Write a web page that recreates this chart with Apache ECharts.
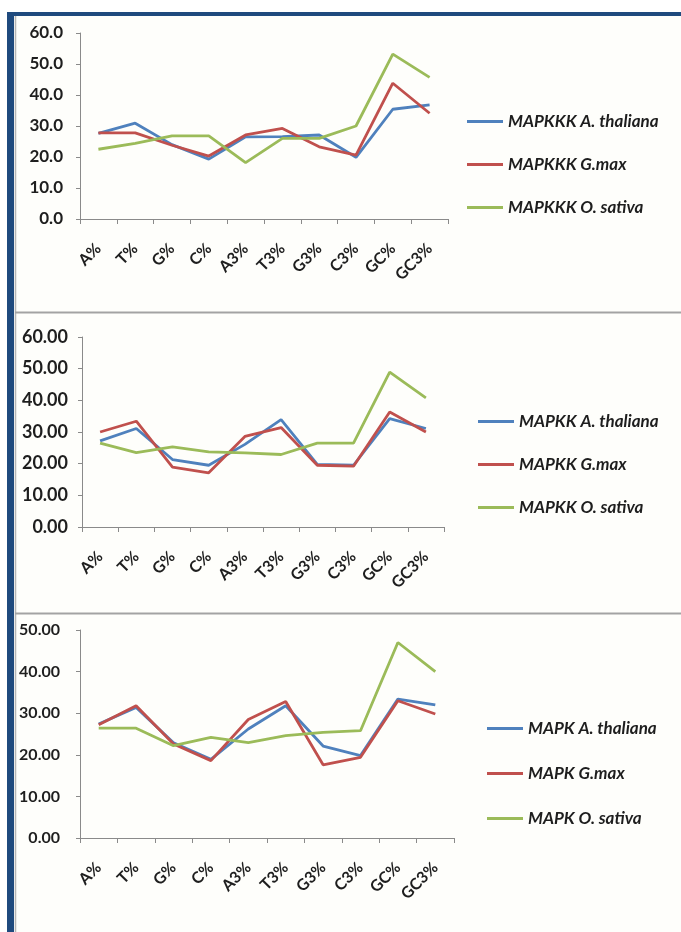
<!DOCTYPE html>
<html>
<head>
<meta charset="utf-8">
<script src="https://cdn.jsdelivr.net/npm/echarts@6/dist/echarts.min.js"></script>
<style>
html,body{margin:0;padding:0;background:#ffffff;}
#c{width:681px;height:932px;}
</style>
</head>
<body>
<div id="c"></div>
<script>
// ---- Data ----
const categories = ['A%', 'T%', 'G%', 'C%', 'A3%', 'T3%', 'G3%', 'C3%', 'GC%', 'GC3%'];

// Panel 1: MAPKKK
const mapkkkAthaliana = [27.6, 30.9, 24.0, 19.3, 26.5, 26.6, 27.1, 19.9, 35.4, 36.8];
const mapkkkGmax      = [27.8, 27.8, 23.8, 20.3, 27.1, 29.2, 23.3, 20.6, 43.8, 34.1];
const mapkkkOsativa   = [22.5, 24.4, 26.8, 26.8, 18.2, 26.0, 26.0, 30.0, 53.2, 45.7];

// Panel 2: MAPKK
const mapkkAthaliana = [27.2, 31.1, 21.3, 19.5, 26.1, 33.9, 19.8, 19.5, 34.2, 31.1];
const mapkkGmax      = [30.0, 33.4, 18.9, 17.1, 28.6, 31.4, 19.5, 19.2, 36.3, 30.0];
const mapkkOsativa   = [26.5, 23.5, 25.3, 23.7, 23.4, 22.9, 26.5, 26.5, 48.9, 40.8];

// Panel 3: MAPK
const mapkAthaliana = [27.4, 31.4, 22.9, 18.9, 26.2, 31.8, 22.1, 19.8, 33.4, 32.0];
const mapkGmax      = [27.2, 31.8, 22.6, 18.6, 28.5, 32.8, 17.6, 19.4, 33.0, 29.8];
const mapkOsativa   = [26.4, 26.4, 22.2, 24.2, 22.9, 24.6, 25.4, 25.8, 47.0, 40.0];

const names1 = ['MAPKKK A. thaliana', 'MAPKKK G.max', 'MAPKKK O. sativa'];
const names2 = ['MAPKK A. thaliana', 'MAPKK G.max', 'MAPKK O. sativa'];
const names3 = ['MAPK A. thaliana', 'MAPK G.max', 'MAPK O. sativa'];

const yMax = [60, 60, 50];
const yDecimals = [1, 2, 2];

// ---- Styling ----
const colors = ['#4F81BD', '#C0504D', '#9BBB59'];
const FONT = 'Lato, "Open Sans", sans-serif';
const TXT = '#1e1e1e';
const AXIS = '#8a8a8a';

const grids = [
  {left: 80, width: 368, top: 33, height: 186},
  {left: 82, width: 362, top: 337, height: 190},
  {left: 80, width: 374, top: 630, height: 208}
];
const yFont = [17, 18, 16];
const yMargin = [17, 14, 20];

const xAxes = grids.map((g, i) => ({
  type: 'category', gridIndex: i, data: categories, boundaryGap: true,
  axisLine: {lineStyle: {color: AXIS, width: 1}},
  axisTick: {show: true, alignWithLabel: false, length: 5, lineStyle: {color: AXIS}},
  axisLabel: {rotate: 45, margin: 27, color: TXT, fontFamily: FONT, fontWeight: 'bold', fontSize: 16, interval: 0}
}));
const yAxes = grids.map((g, i) => ({
  type: 'value', gridIndex: i, min: 0, max: yMax[i], interval: 10,
  axisLine: {show: true, lineStyle: {color: AXIS, width: 1}},
  axisTick: {show: true, length: 4, lineStyle: {color: AXIS}},
  splitLine: {show: false},
  axisLabel: {margin: yMargin[i], color: TXT, fontFamily: FONT, fontWeight: 'bold', fontSize: yFont[i],
    formatter: v => v.toFixed(yDecimals[i])}
}));

const panels = [
  {names: names1, data: [mapkkkAthaliana, mapkkkGmax, mapkkkOsativa]},
  {names: names2, data: [mapkkAthaliana, mapkkGmax, mapkkOsativa]},
  {names: names3, data: [mapkAthaliana, mapkGmax, mapkOsativa]}
];

const series = [];
panels.forEach((p, i) => {
  p.names.forEach((n, k) => {
    series.push({
      type: 'line', name: n, xAxisIndex: i, yAxisIndex: i, data: p.data[k],
      symbol: 'none', smooth: false, color: colors[k],
      lineStyle: {width: 2.8, color: colors[k]}, z: 2 + k
    });
  });
});

const legendPos = [
  {left: 467, top: 112, itemGap: 24},
  {left: 478, top: 412, itemGap: 24},
  {left: 487, top: 719, itemGap: 26}
];
const legends = panels.map((p, i) => ({
  data: p.names, orient: 'vertical', left: legendPos[i].left, top: legendPos[i].top,
  itemGap: legendPos[i].itemGap, icon: 'rect', itemWidth: 36, itemHeight: 3,
  padding: 0, selectedMode: false,
  textStyle: {fontFamily: FONT, fontStyle: 'italic', fontWeight: 'bold', fontSize: 17, color: TXT, lineHeight: 19}
}));

const chart = echarts.init(document.getElementById('c'), null, {renderer: 'canvas'});
chart.setOption({
  backgroundColor: '#fefefb',
  animation: false,
  grid: grids,
  xAxis: xAxes,
  yAxis: yAxes,
  legend: legends,
  series: series,
  graphic: [
    {type: 'rect', shape: {x: 0, y: 0, width: 681, height: 12}, style: {fill: '#ffffff'}, silent: true},
    {type: 'rect', shape: {x: 0, y: 12, width: 7, height: 920}, style: {fill: '#ffffff'}, silent: true},
    {type: 'rect', shape: {x: 7, y: 12, width: 674, height: 4}, style: {fill: '#1F4A7E'}, silent: true},
    {type: 'rect', shape: {x: 7, y: 12, width: 7, height: 920}, style: {fill: '#1F4A7E'}, silent: true},
    {type: 'line', shape: {x1: 15.5, y1: 16, x2: 15.5, y2: 932}, style: {stroke: '#b5b5b5', lineWidth: 1.5}, silent: true},
    {type: 'line', shape: {x1: 15, y1: 312.5, x2: 681, y2: 312.5}, style: {stroke: '#a3a3a3', lineWidth: 2}, silent: true},
    {type: 'line', shape: {x1: 15, y1: 613.5, x2: 681, y2: 613.5}, style: {stroke: '#a3a3a3', lineWidth: 2}, silent: true}
  ]
});
</script>
</body>
</html>
